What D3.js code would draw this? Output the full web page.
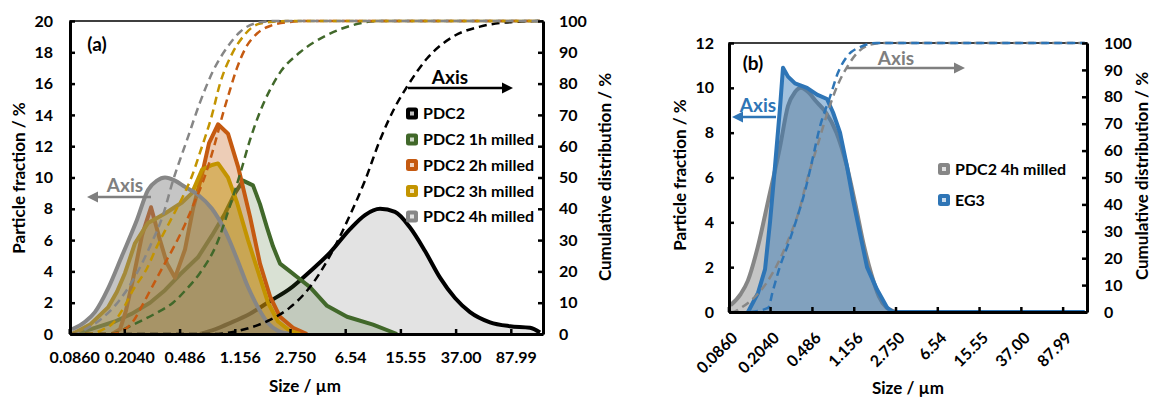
<!DOCTYPE html>
<html>
<head>
<meta charset="utf-8">
<script src="https://cdn.jsdelivr.net/npm/d3@7"></script>
<style>
  body { margin: 0; background: #fff; }
</style>
</head>
<body>
<svg id="chart" width="1153" height="398"></svg>
<script>
// ---- data ----
const sizeTickValues = [0.0860, 0.2040, 0.486, 1.156, 2.750, 6.54, 15.55, 37.00, 87.99];
const sizeTickLabels = ['0.0860', '0.2040', '0.486', '1.156', '2.750', '6.54', '15.55', '37.00', '87.99'];
const fracTicksA = [0, 2, 4, 6, 8, 10, 12, 14, 16, 18, 20];
const fracTicksB = [0, 2, 4, 6, 8, 10, 12];
const cumTicks = [0, 10, 20, 30, 40, 50, 60, 70, 80, 90, 100];
const namesA = ['PDC2', 'PDC2 1h milled', 'PDC2 2h milled', 'PDC2 3h milled', 'PDC2 4h milled'];
const namesB = ['PDC2 4h milled', 'EG3'];

// [size in µm, particle fraction %]
const pdc2Freq = [[0.620,0],[0.784,0.3],[0.992,0.7],[1.358,1.3],[1.858,2.1],[2.544,2.9],[3.482,4.0],[4.766,5.2],[6.524,6.7],[8.251,7.6],[10.45,8.0],[13.22,7.8],[16.73,6.8],[21.17,5.3],[26.79,3.6],[33.90,2.3],[42.90,1.4],[58.72,0.75],[80.37,0.5],[110.0,0.4],[128.7,0.1]];
const mill1hFreq = [[0.0831,0],[0.1025,0.2],[0.1249,0.45],[0.1631,0.8],[0.2130,1.3],[0.2826,2.0],[0.3576,2.8],[0.4525,3.8],[0.6003,4.9],[0.7478,6.3],[0.917,7.7],[1.073,9.0],[1.217,9.8],[1.423,9.5],[1.588,8.3],[1.773,6.8],[1.948,5.6],[2.174,4.5],[2.544,4.0],[2.976,3.5],[3.482,3.0],[4.547,1.8],[6.223,1.1],[9.362,0.6],[13.64,0]];
const mill2hFreq = [[0.1556,0],[0.1765,0.3],[0.1938,1.5],[0.2164,3.5],[0.2492,6.3],[0.2871,8.1],[0.3306,6.0],[0.3690,4.5],[0.4183,3.6],[0.4894,5.4],[0.5550,8.0],[0.6392,10.2],[0.7136,12.2],[0.8219,13.4],[0.9611,12.8],[1.125,10.7],[1.358,7.5],[1.588,4.5],[1.858,2.4],[2.174,1.1],[2.666,0.4],[3.321,0]];
const mill3hFreq = [[0.0831,0],[0.0871,0.1],[0.1102,0.6],[0.1462,1.7],[0.1683,2.7],[0.1909,3.9],[0.2233,5.8],[0.2739,7.1],[0.3576,7.7],[0.4669,8.4],[0.5462,9.0],[0.6392,10.5],[0.7478,10.8],[0.8219,10.9],[0.9611,10.0],[1.107,8.4],[1.316,6.0],[1.539,4.0],[1.801,2.0],[2.107,0.8],[2.544,0.2],[2.976,0]];
const mill4hFreq = [[0.0831,0.3],[0.1025,0.8],[0.1191,1.4],[0.1462,2.9],[0.1821,5.0],[0.2304,7.3],[0.2739,9.2],[0.3154,9.8],[0.3576,10.0],[0.4183,9.8],[0.4894,9.4],[0.6003,8.9],[0.7478,8.0],[0.917,6.6],[1.107,4.8],[1.316,3.0],[1.539,1.7],[1.801,0.7],[2.107,0.2],[2.544,0]];
const eg3Freq = [[0.1194,0],[0.1469,0.85],[0.1699,1.9],[0.1884,4.0],[0.2090,6.5],[0.2318,9.1],[0.2467,10.9],[0.2738,10.5],[0.3165,10.2],[0.4060,10.0],[0.4996,9.7],[0.6147,9.5],[0.6962,8.9],[0.8050,8.0],[0.9306,6.5],[1.0546,5.0],[1.219,3.5],[1.409,2.0],[1.734,1.0],[2.134,0.2],[2.417,0],[128.7,0]];

// [size in µm, cumulative distribution %]
const pdc2Cum = [[0.0831,0],[0.784,0],[0.992,0.5],[1.358,2],[1.858,4.5],[2.544,8.5],[3.482,15],[4.766,25],[6.524,38],[8.251,49],[10.45,62],[13.22,72.5],[15.96,79],[21.84,88],[32.86,95],[50.19,98.2],[84.22,99.7],[128.7,100]];
const mill1hCum = [[0.0831,0],[0.1508,0],[0.1683,0.5],[0.2064,2.5],[0.2532,4.5],[0.3204,7],[0.4054,10],[0.5052,14.5],[0.6195,19.5],[0.8089,29],[0.992,41],[1.160,51],[1.358,62],[1.588,71],[1.858,78],[2.174,83.5],[2.976,90],[4.547,95.5],[6.838,98.7],[10.45,100],[128.7,100]];
const mill2hCum = [[0.0831,0],[0.1508,0],[0.1821,1],[0.2164,4],[0.2492,9],[0.2916,15],[0.3465,21.5],[0.4183,28.5],[0.4894,35],[0.5550,41],[0.670,50.5],[0.7838,61],[0.889,70.5],[0.992,78],[1.107,85],[1.255,91],[1.516,96],[1.858,98.4],[2.544,99.7],[3.482,100],[128.7,100]];
const mill3hCum = [[0.0831,0],[0.1102,0],[0.1289,1],[0.1581,3.5],[0.1850,8],[0.2164,14],[0.2696,21],[0.3154,28],[0.3868,36],[0.4743,44],[0.5462,50.5],[0.6195,58],[0.7478,70],[0.8478,80],[1.024,89.5],[1.217,95],[1.539,99],[2.010,99.8],[2.544,100],[128.7,100]];
const mill4hCum = [[0.0831,0],[0.0871,0],[0.1025,1.5],[0.1289,4.5],[0.1765,11],[0.2304,19.5],[0.2826,28],[0.3465,38],[0.4054,49],[0.5052,62],[0.6195,74],[0.7596,84],[0.9459,91.5],[1.160,96.5],[1.516,99.4],[2.010,100],[128.7,100]];
const eg3Cum = [[0.1245,0],[0.1807,1.5],[0.2004,8],[0.2318,17],[0.2738,25],[0.330,35],[0.3895,45],[0.4503,56],[0.5316,69],[0.6541,80],[0.7723,89],[0.9306,95],[1.219,98.5],[1.734,100],[128.7,100]];

// ---- drawing ----
const FONT = "Lato, 'Open Sans', sans-serif";
const tickShift = 0.925; // category-boundary offset of the x tick marks
const svg = d3.select('#chart');

const black = { color: '#000000', fill: '#000000', fo: 0.11, smooth: true };
const green = { color: '#41682a', fill: '#41682a', fo: 0.2 };
const orange = { color: '#c55a11', fill: '#c55a11', fo: 0.3 };
const gold = { color: '#c39400', fill: '#bf9000', fo: 0.45 };
const gray = { color: '#868686', fill: '#7f7f7f', fo: 0.45, smooth: true };
const blue = { color: '#2e75b6', fill: '#2e75b6', fo: 0.45 };

function styleAxis(a) {
  a.attr('font-family', FONT).attr('font-size', 16).attr('font-weight', 700);
  a.select('.domain').attr('stroke', '#000').attr('stroke-width', 3);
  a.selectAll('.tick line').attr('stroke', '#000').attr('stroke-width', 2.5);
  a.selectAll('.tick text').attr('fill', '#000');
}

function addText(t, x, y, opts = {}) {
  return svg.append('text').attr('x', x).attr('y', y)
    .attr('font-family', FONT).attr('font-weight', 700)
    .attr('font-size', opts.size || 17).attr('fill', opts.color || '#000')
    .attr('text-anchor', opts.anchor || 'middle')
    .attr('dy', opts.dy || null)
    .attr('transform', opts.rotate ? `rotate(${opts.rotate},${x},${y})` : null)
    .text(t);
}

function arrow(x1, x2, y, color) {
  const dir = Math.sign(x2 - x1);
  svg.append('line').attr('x1', x1).attr('x2', x2 - dir * 9).attr('y1', y).attr('y2', y)
    .attr('stroke', color).attr('stroke-width', 2.5);
  svg.append('path')
    .attr('d', `M${x2},${y} L${x2 - dir * 11},${y - 5.5} L${x2 - dir * 11},${y + 5.5} Z`)
    .attr('fill', color);
}

function drawPanel(cfg) {
  const x = d3.scaleLog().domain([0.0805, 134.9]).range([cfg.left, cfg.right]);
  const y = d3.scaleLinear().domain([0, cfg.yMax]).range([cfg.bottom, cfg.top]);
  const y2 = d3.scaleLinear().domain([0, 100]).range([cfg.bottom, cfg.top]);
  const g = svg.append('g');

  g.append('rect').attr('x', cfg.left).attr('y', cfg.top)
    .attr('width', cfg.right - cfg.left).attr('height', cfg.bottom - cfg.top)
    .attr('fill', 'none').attr('stroke', '#000').attr('stroke-width', 1.5);

  // frequency areas + lines
  cfg.series.forEach(s => {
    const curve = s.style.smooth ? d3.curveMonotoneX : d3.curveLinear;
    g.append('path').datum(s.freq)
      .attr('d', d3.area().x(d => x(d[0])).y0(y(0)).y1(d => y(d[1])).curve(curve))
      .attr('fill', s.style.fill).attr('fill-opacity', s.style.fo);
    g.append('path').datum(s.freq)
      .attr('d', d3.line().x(d => x(d[0])).y(d => y(d[1])).curve(curve))
      .attr('fill', 'none').attr('stroke', s.style.color)
      .attr('stroke-width', 4).attr('stroke-linejoin', 'round');
  });

  // cumulative dashed lines on the secondary axis
  cfg.series.forEach(s => {
    g.append('path').datum(s.cum)
      .attr('d', d3.line().x(d => x(d[0])).y(d => y2(d[1])).curve(d3.curveMonotoneX))
      .attr('fill', 'none').attr('stroke', s.style.color)
      .attr('stroke-width', 2.5).attr('stroke-dasharray', '8,5');
  });

  // axes
  const ax = g.append('g').attr('transform', `translate(0,${cfg.bottom})`)
    .call(d3.axisBottom(x).tickValues(sizeTickValues).tickFormat((d, i) => sizeTickLabels[i])
      .tickSize(0).tickPadding(18));
  styleAxis(ax);
  if (cfg.rotateLabels) {
    ax.selectAll('.tick text').attr('x', 0).attr('y', 0).attr('dy', '0.35em')
      .attr('text-anchor', 'end').attr('transform', 'translate(2,23) rotate(-45)');
  }
  const axTicks = g.append('g').attr('transform', `translate(0,${cfg.bottom})`)
    .call(d3.axisBottom(x).tickValues(sizeTickValues.map(v => v * tickShift)).tickSize(-5).tickFormat(''));
  axTicks.select('.domain').remove();
  styleAxis(axTicks);

  const ay = g.append('g').attr('transform', `translate(${cfg.left},0)`)
    .call(d3.axisLeft(y).tickValues(cfg.fracTicks).tickSize(-5).tickSizeOuter(0).tickPadding(cfg.padL));
  styleAxis(ay);
  const ay2 = g.append('g').attr('transform', `translate(${cfg.right},0)`)
    .call(d3.axisRight(y2).tickValues(cumTicks).tickSize(-5).tickSizeOuter(0).tickPadding(cfg.padR));
  styleAxis(ay2);

  // legend
  cfg.series.forEach((s, i) => {
    const lg = svg.append('g').attr('transform', `translate(${cfg.legendX},${cfg.legendY[i]})`);
    lg.append('rect').attr('x', 0).attr('y', -6).attr('width', 12).attr('height', 12).attr('rx', 2.5)
      .attr('fill', s.style.color);
    lg.append('rect').attr('x', 4).attr('y', -2).attr('width', 4).attr('height', 4)
      .attr('fill', '#fff').attr('fill-opacity', 0.75);
    lg.append('text').attr('x', 17).attr('dy', '0.35em')
      .attr('font-family', FONT).attr('font-weight', 700).attr('font-size', 16)
      .text(s.name);
  });
}

drawPanel({
  left: 70, right: 543, top: 21, bottom: 334, yMax: 20,
  fracTicks: fracTicksA, padL: 17, padR: 16,
  legendX: 406, legendY: [113.5, 139.5, 165, 191, 216.5],
  series: [
    { name: namesA[0], freq: pdc2Freq, cum: pdc2Cum, style: black },
    { name: namesA[1], freq: mill1hFreq, cum: mill1hCum, style: green },
    { name: namesA[2], freq: mill2hFreq, cum: mill2hCum, style: orange },
    { name: namesA[3], freq: mill3hFreq, cum: mill3hCum, style: gold },
    { name: namesA[4], freq: mill4hFreq, cum: mill4hCum, style: gray }
  ]
});

drawPanel({
  left: 729, right: 1087, top: 43, bottom: 312, yMax: 12,
  fracTicks: fracTicksB, padL: 15, padR: 17, rotateLabels: true,
  legendX: 938, legendY: [169, 200],
  series: [
    { name: namesB[0], freq: mill4hFreq, cum: mill4hCum, style: gray },
    { name: namesB[1], freq: eg3Freq, cum: eg3Cum, style: blue }
  ]
});

// axis titles
addText('Particle fraction / %', 19, 178, { rotate: -90, dy: '0.35em' });
addText('Cumulative distribution / %', 605, 177, { rotate: -90, dy: '0.35em' });
addText('Size / µm', 305, 386, { dy: '0.35em' });
addText('Particle fraction / %', 680, 175, { rotate: -90, dy: '0.35em' });
addText('Cumulative distribution / %', 1142, 176, { rotate: -90, dy: '0.35em' });
addText('Size / µm', 908, 388, { dy: '0.35em' });

// panel labels and axis annotations
addText('(a)', 97, 51, { size: 19 });
addText('(b)', 753, 70, { size: 19 });
addText('Axis', 450, 84, { size: 19 });
arrow(408, 513, 88, '#000');
addText('Axis', 125, 192, { size: 19, color: '#7f7f7f' });
arrow(151, 87, 197, '#7f7f7f');
addText('Axis', 758, 112, { size: 19, color: '#2e75b6' });
arrow(776, 732, 117, '#2e75b6');
addText('Axis', 896, 65, { size: 19, color: '#7f7f7f' });
arrow(847, 965, 68, '#7f7f7f');
</script>
</body>
</html>
